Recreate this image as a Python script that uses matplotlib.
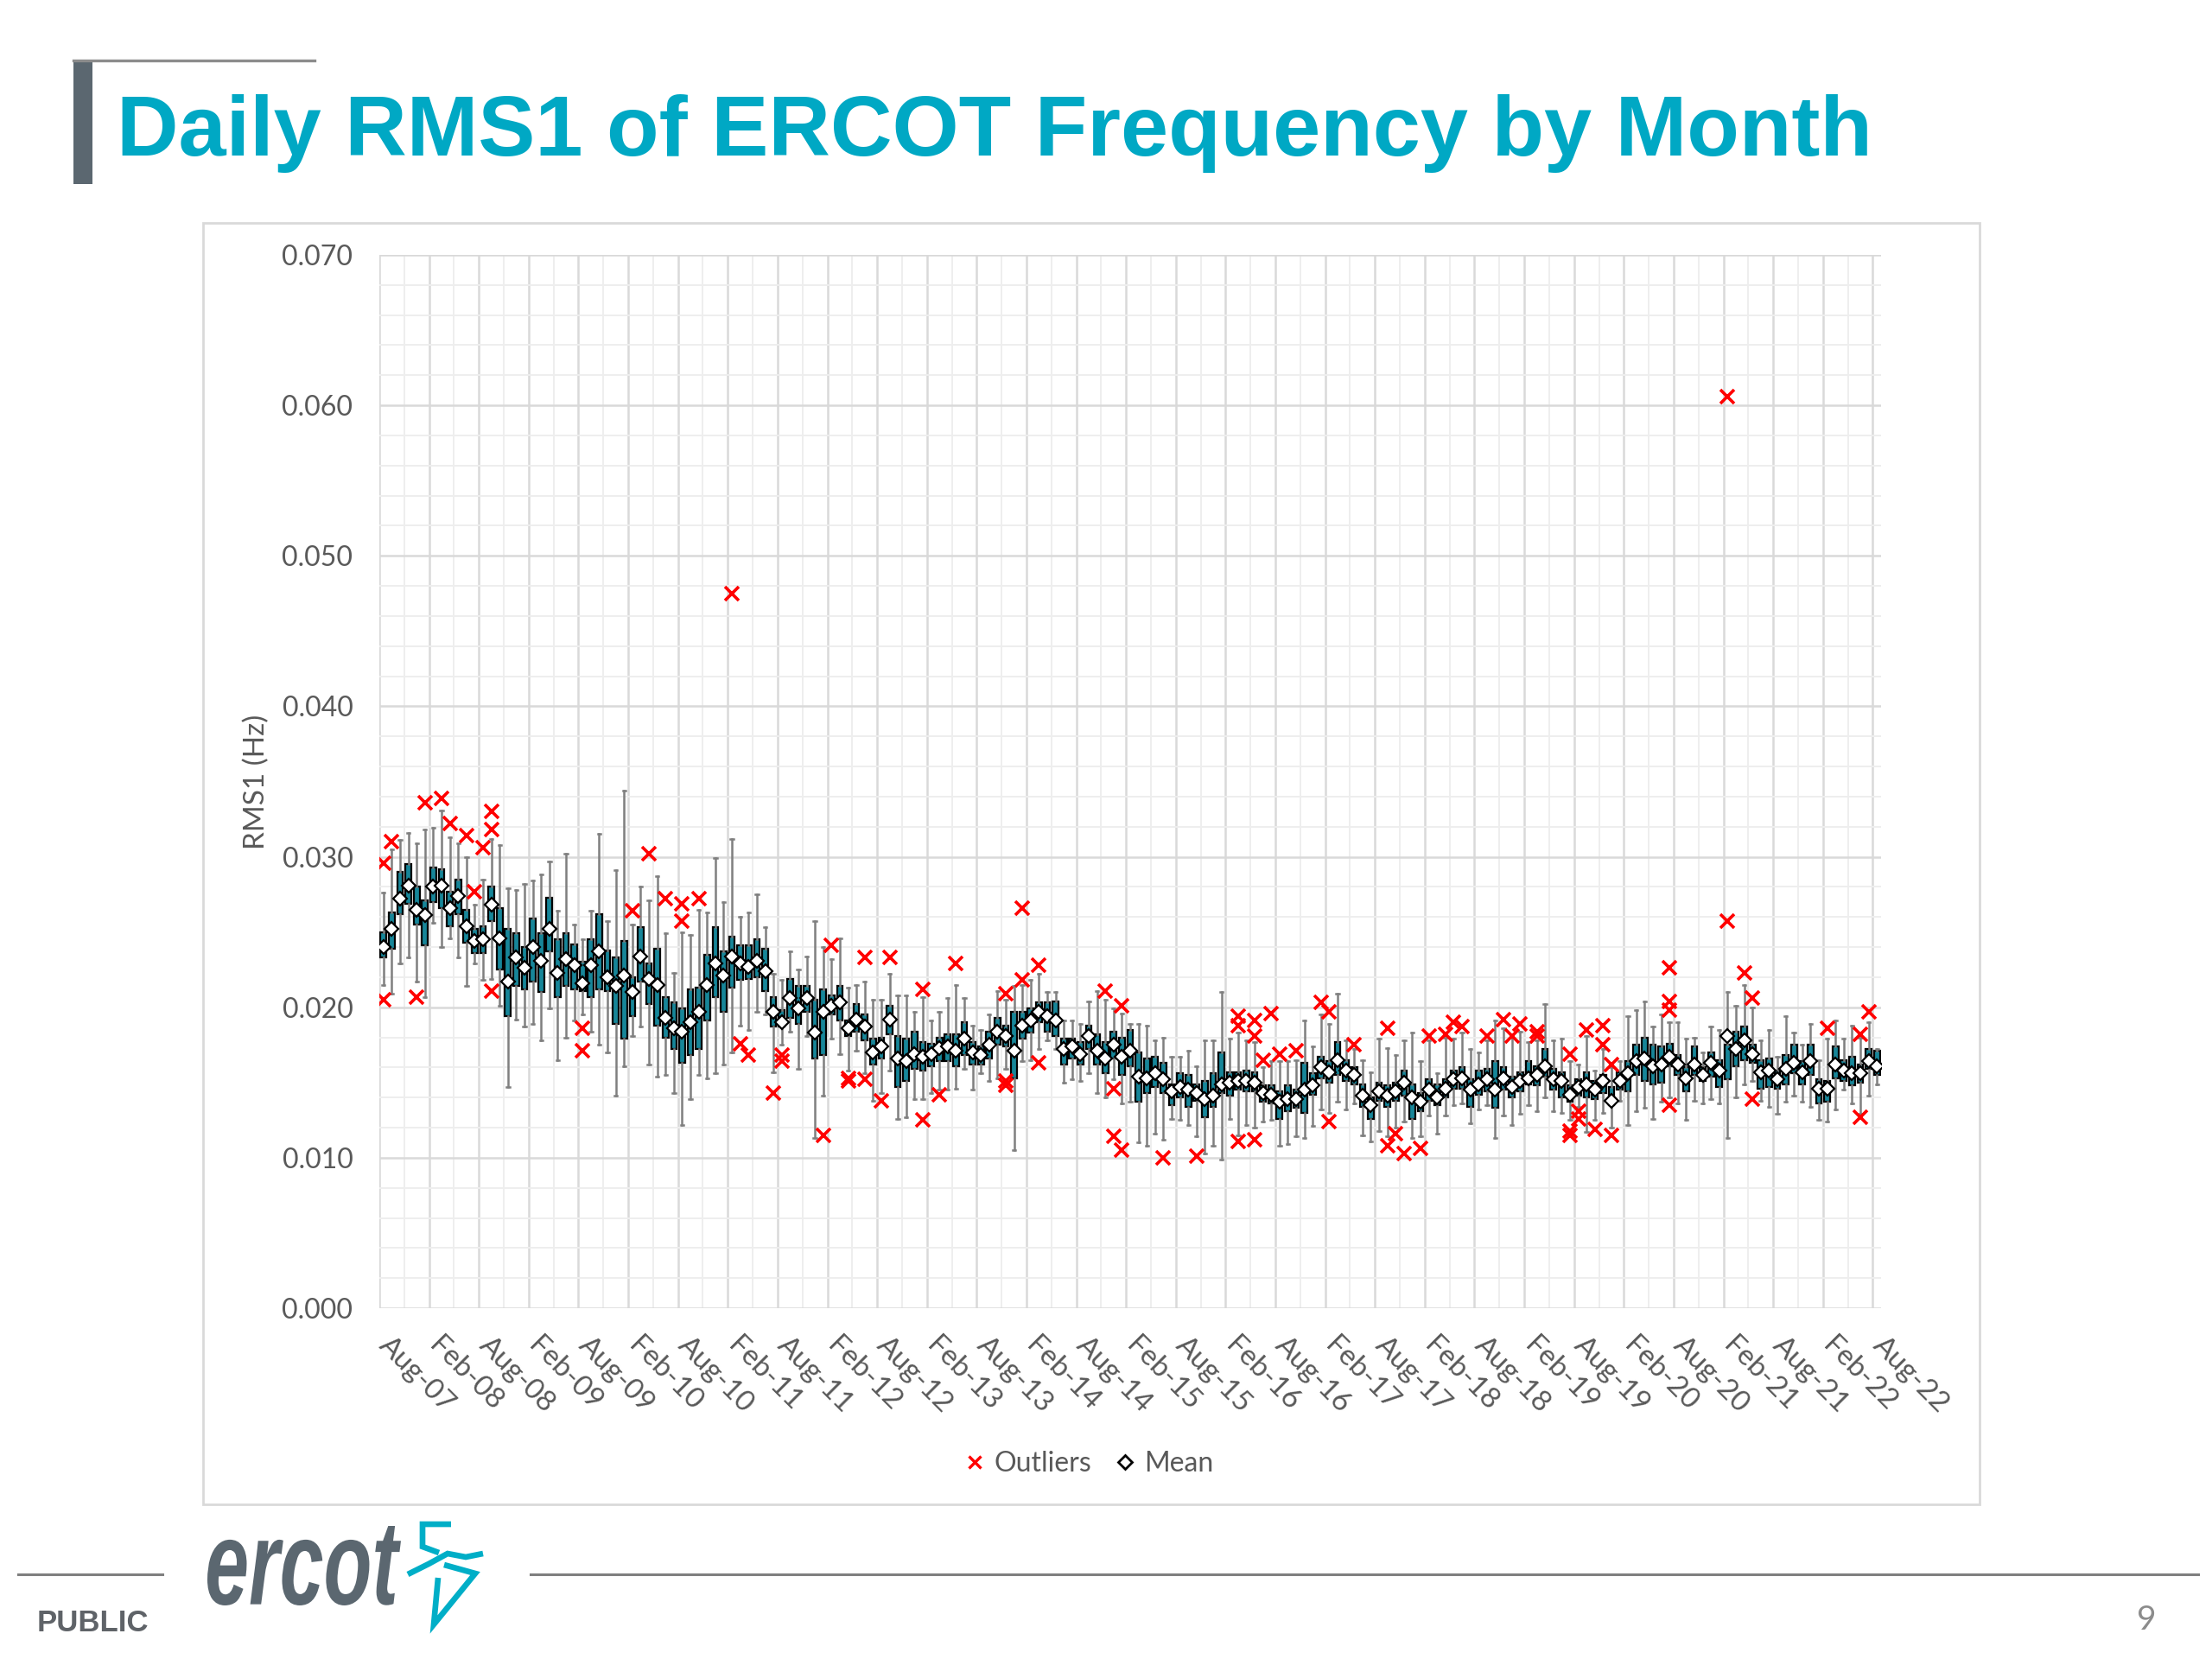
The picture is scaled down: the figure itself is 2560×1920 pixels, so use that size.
import numpy as np
import matplotlib
matplotlib.use("Agg")
import matplotlib.pyplot as plt
from matplotlib.lines import Line2D
from matplotlib.patches import Rectangle, PathPatch
from matplotlib.textpath import TextPath
from matplotlib.font_manager import FontProperties
from matplotlib.transforms import Affine2D

plt.rcParams['font.family'] = ['Lato', 'DejaVu Sans']

# monthly daily-RMS1 statistics, Aug-07 .. Aug-22, in units of 1e-4 Hz
mean_e4 = [
    240, 252, 272, 281, 265, 261, 280, 281, 266, 274,
    254, 244, 245, 268, 246, 217, 233, 226, 240, 231,
    252, 223, 232, 228, 216, 228, 237, 220, 214, 221,
    210, 234, 219, 215, 193, 186, 184, 190, 197, 215,
    229, 221, 234, 229, 227, 231, 224, 197, 190, 206,
    199, 206, 183, 197, 201, 203, 186, 192, 187, 170,
    174, 192, 166, 164, 169, 167, 169, 173, 174, 171,
    179, 170, 168, 175, 184, 181, 171, 188, 191, 197,
    194, 191, 172, 174, 169, 181, 171, 166, 175, 167,
    171, 154, 153, 156, 152, 144, 147, 145, 143, 139,
    141, 149, 150, 151, 151, 150, 143, 142, 137, 139,
    139, 145, 148, 160, 157, 165, 158, 155, 141, 135,
    144, 141, 144, 150, 140, 137, 145, 140, 146, 152,
    153, 145, 149, 152, 145, 153, 147, 151, 153, 155,
    161, 152, 151, 142, 147, 149, 145, 151, 138, 151,
    156, 164, 166, 161, 162, 167, 162, 153, 162, 155,
    163, 158, 181, 172, 178, 169, 157, 158, 152, 159,
    163, 157, 164, 146, 146, 162, 158, 156, 156, 164, 161,
]
q1_e4 = [
    233, 239, 262, 269, 255, 241, 270, 266, 254, 262,
    243, 236, 236, 257, 225, 194, 214, 212, 217, 210,
    237, 207, 214, 212, 211, 207, 212, 211, 189, 179,
    194, 217, 202, 188, 180, 172, 163, 168, 172, 191,
    207, 197, 213, 218, 219, 220, 211, 187, 187, 193,
    189, 197, 166, 168, 195, 191, 181, 184, 178, 162,
    166, 182, 147, 151, 159, 158, 161, 164, 164, 161,
    168, 162, 162, 166, 175, 174, 153, 179, 183, 190,
    184, 181, 162, 166, 162, 172, 162, 156, 166, 155,
    161, 137, 143, 147, 143, 135, 140, 134, 138, 127,
    134, 143, 141, 145, 144, 144, 137, 136, 126, 131,
    133, 130, 142, 153, 150, 155, 151, 149, 134, 126,
    138, 134, 138, 141, 126, 131, 138, 135, 140, 146,
    146, 134, 142, 144, 133, 145, 140, 144, 149, 148,
    154, 145, 140, 137, 141, 140, 139, 143, 135, 145,
    144, 155, 151, 149, 150, 161, 155, 144, 155, 151,
    154, 147, 152, 161, 165, 163, 146, 147, 146, 149,
    156, 149, 155, 136, 137, 153, 151, 148, 150, 159, 155,
]
q3_e4 = [
    250, 263, 290, 295, 280, 271, 293, 292, 277, 285,
    265, 252, 254, 280, 266, 252, 249, 240, 259, 249,
    273, 245, 249, 242, 230, 245, 262, 238, 233, 244,
    220, 253, 229, 239, 207, 203, 199, 212, 213, 235,
    253, 237, 247, 241, 241, 245, 239, 207, 198, 219,
    214, 214, 205, 212, 208, 214, 191, 202, 195, 179,
    180, 201, 181, 179, 184, 177, 176, 180, 182, 182,
    190, 177, 174, 184, 193, 188, 197, 197, 199, 203,
    203, 204, 179, 179, 177, 188, 182, 177, 184, 180,
    185, 170, 166, 167, 163, 149, 156, 155, 149, 151,
    156, 170, 157, 157, 158, 157, 148, 148, 144, 148,
    145, 163, 156, 167, 164, 177, 165, 160, 149, 140,
    150, 148, 150, 158, 149, 143, 152, 149, 152, 158,
    160, 152, 158, 159, 164, 160, 154, 157, 164, 161,
    172, 159, 157, 148, 152, 157, 151, 155, 147, 157,
    164, 175, 180, 175, 174, 176, 168, 160, 174, 160,
    170, 165, 175, 184, 187, 175, 165, 166, 158, 168,
    175, 164, 175, 152, 151, 174, 165, 167, 162, 172, 171,
]
lo_e4 = [
    215, 209, 229, 233, 217, 207, 256, 240, 246, 233,
    214, 229, 218, 219, 201, 147, 192, 187, 189, 178,
    199, 165, 180, 191, 195, 184, 175, 170, 141, 161,
    181, 187, 162, 154, 155, 143, 122, 139, 155, 153,
    156, 162, 170, 188, 185, 197, 195, 157, 175, 184,
    159, 181, 113, 141, 179, 169, 158, 171, 156, 138,
    143, 158, 126, 127, 139, 139, 143, 145, 145, 146,
    159, 145, 156, 151, 153, 159, 105, 164, 165, 172,
    178, 172, 150, 152, 151, 156, 143, 140, 152, 136,
    137, 110, 108, 116, 112, 126, 125, 122, 114, 103,
    108, 99, 126, 115, 122, 120, 124, 125, 108, 109,
    114, 113, 121, 132, 130, 137, 132, 136, 115, 111,
    118, 114, 120, 124, 113, 114, 128, 116, 128, 135,
    136, 123, 132, 135, 113, 128, 122, 129, 135, 131,
    140, 131, 130, 125, 134, 117, 125, 130, 120, 138,
    122, 131, 133, 126, 137, 140, 136, 125, 138, 136,
    139, 136, 113, 140, 149, 151, 138, 134, 129, 137,
    141, 137, 134, 125, 124, 132, 145, 136, 129, 141, 149,
]
hi_e4 = [
    276, 305, 311, 316, 309, 318, 319, 331, 313, 309,
    300, 268, 285, 312, 308, 279, 278, 282, 284, 288,
    297, 264, 302, 255, 245, 264, 315, 257, 291, 344,
    255, 280, 271, 287, 249, 223, 250, 248, 265, 263,
    299, 270, 312, 260, 263, 275, 253, 222, 218, 237,
    225, 234, 257, 240, 232, 246, 213, 215, 217, 205,
    205, 222, 208, 208, 197, 207, 191, 197, 206, 215,
    206, 188, 185, 195, 211, 205, 214, 215, 218, 222,
    210, 210, 191, 191, 189, 204, 211, 205, 199, 196,
    189, 189, 188, 178, 180, 167, 167, 171, 161, 178,
    178, 210, 179, 183, 178, 177, 160, 164, 164, 164,
    165, 191, 174, 195, 189, 209, 178, 172, 165, 157,
    179, 173, 168, 178, 183, 164, 178, 156, 180, 179,
    183, 172, 170, 178, 191, 186, 180, 184, 177, 178,
    202, 178, 179, 164, 162, 181, 158, 172, 160, 164,
    194, 198, 204, 187, 195, 190, 190, 179, 180, 170,
    187, 185, 210, 201, 215, 200, 178, 185, 167, 194,
    183, 175, 189, 165, 179, 191, 179, 188, 180, 190, 172,
]

# outliers: month index and value (1e-4 Hz)
out_idx = [
    0, 0, 1, 4, 5, 7, 8, 10, 11, 12, 13, 13, 13,
    24, 24, 30, 32, 34, 36, 36, 38, 42, 43, 44,
    47, 48, 48, 53, 54, 56, 56, 58, 58, 60, 61, 65, 65, 67, 69,
    75, 75, 75, 77, 77, 79, 79, 87, 88, 88, 89, 89,
    94, 98, 103, 103, 103, 105, 105, 105, 106, 107, 108, 110, 113, 114, 114,
    117, 121, 121, 122, 123, 125, 126, 128, 129, 130, 133, 135, 136, 137,
    139, 139, 143, 143, 143, 144, 144, 145, 146, 147, 147, 148, 148,
    155, 155, 155, 155, 162, 162, 164, 165, 165, 174, 178, 178, 179,
]
out_e4 = [
    296, 205, 310, 207, 336, 339, 322, 314, 277, 306, 330, 318, 211,
    186, 171, 264, 302, 272, 269, 257, 272, 475, 176, 168,
    143, 168, 164, 115, 241, 153, 151, 233, 152, 138, 233, 212, 125, 142, 229,
    209, 151, 148, 266, 218, 228, 163, 211, 146, 114, 201, 105,
    100, 101, 194, 188, 111, 191, 181, 112, 165, 196, 169, 171, 203, 197, 124,
    175, 186, 108, 116, 103, 106, 181, 182, 190, 187, 181, 192, 181, 189,
    184, 181, 169, 118, 115, 131, 126, 185, 119, 188, 175, 162, 115,
    226, 204, 198, 135, 606, 257, 223, 206, 139, 186, 182, 127, 197,
]

tick_labels = [
    "Aug-07", "Feb-08", "Aug-08", "Feb-09", "Aug-09", "Feb-10", "Aug-10",
    "Feb-11", "Aug-11", "Feb-12", "Aug-12", "Feb-13", "Aug-13", "Feb-14",
    "Aug-14", "Feb-15", "Aug-15", "Feb-16", "Aug-16", "Feb-17", "Aug-17",
    "Feb-18", "Aug-18", "Feb-19", "Aug-19", "Feb-20", "Aug-20", "Feb-21",
    "Aug-21", "Feb-22", "Aug-22",
]

TEAL_BOX = "#178699"
TITLE_C = "#00a8c4"
GRAY_TXT = "#595959"
ERCOT_GRAY = "#5b6770"

W, H = 2560, 1920
fig = plt.figure(figsize=(12.8, 9.6), dpi=200)
fig.patch.set_facecolor("white")

# slide decorations in pixel coordinates
deco = fig.add_axes([0, 0, 1, 1], zorder=-1)
deco.set_xlim(0, W)
deco.set_ylim(H, 0)
deco.axis("off")

deco.add_patch(Rectangle((235, 258), 2056, 1483, fill=False, ec="#d9d9d9", lw=1.0))
deco.add_patch(Rectangle((85, 69), 22, 144, color=ERCOT_GRAY, lw=0))
deco.plot([85, 364], [70, 70], color="#8c8c8c", lw=1.2)
deco.plot([21, 188], [1822, 1822], color="#7f7f7f", lw=1.1)
deco.plot([614, 2544], [1822, 1822], color="#7f7f7f", lw=1.1)

fp = FontProperties(family="Liberation Sans", style="italic", weight="bold")
tp = TextPath((0, 0), "ercot", size=100, prop=fp)
ext = tp.get_extents()
tr = Affine2D().translate(-ext.x0, -ext.y0).scale(224 / ext.width, -92 / ext.height).translate(240, 1858)
deco.add_patch(PathPatch(tr.transform_path(tp), fc=ERCOT_GRAY, ec="none"))

bolt = dict(color="#00aec7", lw=2.4, solid_capstyle="butt", solid_joinstyle="miter")
deco.plot([522, 489, 489, 508], [1764, 1764, 1790, 1797], **bolt)
deco.plot([472, 496, 518, 539, 559], [1822, 1810, 1798, 1802, 1798], **bolt)
deco.plot([514, 550, 502, 507], [1811, 1821, 1880, 1826], **bolt)

deco.text(43, 1878, "PUBLIC", fontsize=12.5, fontweight="bold", family="Liberation Sans",
          color="#5f6368", ha="left", va="center")
deco.text(2484, 1875, "9", fontsize=14, color="#8c8c8c", ha="center", va="center")

fig.text(135 / W, 1 - 180 / H, "Daily RMS1 of ERCOT Frequency by Month", fontsize=35.7,
         fontweight="bold", family="Liberation Sans", color=TITLE_C, va="baseline")

# main chart
ax = fig.add_axes([439 / W, 1 - 1514 / H, (2177 - 439) / W, (1514 - 295) / H])
ax.set_facecolor("none")

n = len(mean_e4)
pos = np.arange(n) + 0.5
mean = np.array(mean_e4) / 1e4
q1 = np.array(q1_e4) / 1e4
q3 = np.array(q3_e4) / 1e4
lo = np.array(lo_e4) / 1e4
hi = np.array(hi_e4) / 1e4

stats = []
for i in range(n):
    stats.append(dict(med=mean[i], q1=q1[i], q3=q3[i], whislo=lo[i], whishi=hi[i],
                      mean=mean[i], fliers=[]))

ax.bxp(stats, positions=pos, widths=0.7, patch_artist=True, showmeans=True, showfliers=False,
       boxprops=dict(facecolor=TEAL_BOX, edgecolor="black", linewidth=0.8),
       whiskerprops=dict(color="#7f7f7f", linewidth=0.9),
       capprops=dict(color="#7f7f7f", linewidth=0.9),
       medianprops=dict(linewidth=0),
       meanprops=dict(marker="D", markerfacecolor="white", markeredgecolor="black",
                      markersize=4.0, markeredgewidth=0.8))

ax.plot(np.array(out_idx) + 0.5, np.array(out_e4) / 1e4, linestyle="none", marker="x",
        color="red", markersize=5.5, markeredgewidth=1.3, zorder=5)

ax.set_xlim(0, n)
ax.set_ylim(0, 0.07)

# grid
ax.set_yticks(np.arange(0, 0.0701, 0.01))
ax.set_yticks(np.arange(0, 0.0701, 0.002), minor=True)
ax.grid(which="major", axis="y", color="#d9d9d9", lw=0.9, zorder=0)
ax.grid(which="minor", axis="y", color="#eeeeee", lw=0.7, zorder=0)
for b in range(0, n, 3):
    ax.axvline(b, color="#d9d9d9" if b % 6 == 0 else "#eeeeee",
               lw=0.9 if b % 6 == 0 else 0.7, zorder=0)
ax.set_axisbelow(True)

ax.set_yticklabels([f"{v:.3f}" for v in np.arange(0, 0.0701, 0.01)], fontsize=11.5, color=GRAY_TXT)
ax.set_xticks(np.arange(0, n, 6) + 0.5)
ax.set_xticklabels(tick_labels, rotation=-45, ha="left", va="center", rotation_mode="anchor",
                   fontsize=12, color=GRAY_TXT)
ax.tick_params(axis="both", which="both", length=0)
ax.tick_params(axis="x", pad=14)
ax.tick_params(axis="y", pad=11)
for s in ax.spines.values():
    s.set_visible(False)

ax.set_ylabel("RMS1 (Hz)", fontsize=12, color=GRAY_TXT)
ax.yaxis.set_label_coords(-0.073, 0.5)

handles = [
    Line2D([], [], ls="none", marker="x", color="red", markersize=5, markeredgewidth=1.2),
    Line2D([], [], ls="none", marker="D", markerfacecolor="white", markeredgecolor="black",
           markersize=4, markeredgewidth=1.0),
]
fig.legend(handles, ["Outliers", "Mean"], loc="center", bbox_to_anchor=(1260 / W, 1 - 1694 / H),
           ncol=2, frameon=False, fontsize=11.5, handlelength=0.8, handletextpad=0.3,
           columnspacing=0.8, labelcolor=GRAY_TXT)

fig.savefig("out.png", dpi=200)
